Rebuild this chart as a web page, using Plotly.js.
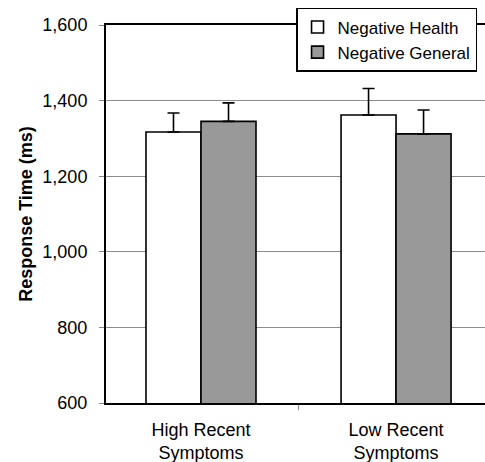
<!DOCTYPE html>
<html>
<head>
<meta charset="utf-8">
<script src="https://cdn.plot.ly/plotly-3.0.1.min.js"></script>
<style>html,body{margin:0;padding:0;background:#fff;}#chart{width:485px;height:462px;}</style>
</head>
<body>
<div id="chart"></div>
<script>
const categories = ["High Recent<br>Symptoms", "Low Recent<br>Symptoms"];
const seriesNames = ["Negative Health", "Negative General"];
const healthValues = [1317, 1362];
const healthErrors = [50, 70];
const generalValues = [1345, 1312];
const generalErrors = [49, 63];
const yTicks = [600, 800, 1000, 1200, 1400, 1600];

const font = "'Liberation Sans', Arial, sans-serif";

const traces = [
  {
    type: "bar", name: seriesNames[0], x: categories, y: healthValues,
    marker: {color: "#ffffff", line: {color: "#000000", width: 1.6}},
    error_y: {type: "data", array: healthErrors, arrayminus: healthErrors.map(() => 0), symmetric: false,
              color: "#000000", thickness: 1.6, width: 6}
  },
  {
    type: "bar", name: seriesNames[1], x: categories, y: generalValues,
    marker: {color: "#999999", line: {color: "#000000", width: 1.6}},
    error_y: {type: "data", array: generalErrors, arrayminus: generalErrors.map(() => 0), symmetric: false,
              color: "#000000", thickness: 1.6, width: 6}
  }
];

const layout = {
  width: 485, height: 462,
  margin: {l: 106, r: 0, t: 25, b: 59},
  paper_bgcolor: "#ffffff", plot_bgcolor: "#ffffff",
  font: {family: font, size: 18, color: "#000000"},
  barmode: "group", bargap: 0.436, bargroupgap: 0,
  showlegend: true,
  legend: {
    x: 0.979, xanchor: "right", y: 1.045, yanchor: "top",
    bgcolor: "#ffffff", bordercolor: "#000000", borderwidth: 1.5,
    font: {family: font, size: 17, color: "#000000"},
    tracegroupgap: 0, itemwidth: 30
  },
  xaxis: {
    type: "category", range: [-0.487, 1.456],
    showline: true, linecolor: "#000000", linewidth: 2, mirror: true,
    ticks: "outside", tickson: "boundaries", ticklen: 5, tickcolor: "#888888", tickwidth: 1,
    ticklabelstandoff: 9,
    showgrid: false, zeroline: false, fixedrange: true,
    tickfont: {family: font, size: 18, color: "#000000"}
  },
  yaxis: {
    range: [600, 1600], tickvals: yTicks, tickformat: ",d",
    showline: true, linecolor: "#000000", linewidth: 2,
    ticks: "outside", ticklen: 5, tickcolor: "#888888", tickwidth: 1,
    ticklabelstandoff: 8,
    showgrid: true, gridcolor: "#8c8c8c", gridwidth: 1, zeroline: false,
    tickfont: {family: font, size: 18, color: "#000000"},
    title: {text: "<b>Response Time (ms)</b>", font: {family: font, size: 18, color: "#000000"}, standoff: 5}
  }
};

Plotly.newPlot("chart", traces, layout, {staticPlot: true, displayModeBar: false});
</script>
</body>
</html>
